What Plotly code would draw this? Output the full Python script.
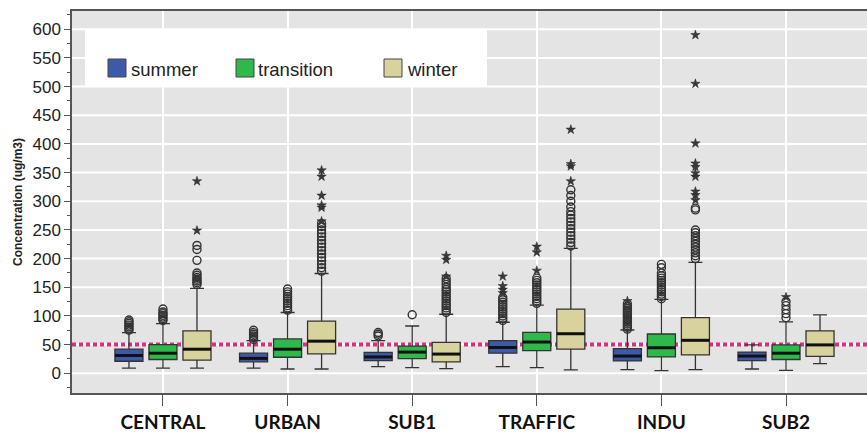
import plotly.graph_objects as go

# Monitoring site groups and seasons
categories = ["CENTRAL", "URBAN", "SUB1", "TRAFFIC", "INDU", "SUB2"]
seasons = ["summer", "transition", "winter"]

# Box statistics per season (one value per site, in category order)
summer_q1 = [21, 20, 22, 35, 21.5, 22]
summer_median = [31, 26, 28.5, 45, 30, 30]
summer_q3 = [42, 35, 36.5, 57, 43, 37]
summer_low = [9, 9, 11.5, 11.5, 6.5, 7.5]
summer_high = [71, 57, 57, 89, 75.5, 49.5]

transition_q1 = [24, 28, 25.5, 39.5, 28.5, 24]
transition_median = [35, 42, 37, 54.5, 44.5, 35]
transition_q3 = [50, 60, 47.5, 71.5, 68.5, 49.5]
transition_low = [9, 7.5, 10, 10, 4.5, 5]
transition_high = [86.5, 106, 82.5, 119, 129, 89.5]

winter_q1 = [23, 34, 20, 42, 32, 29.5]
winter_median = [42, 56, 33.5, 69, 57.5, 49.5]
winter_q3 = [74, 91, 54, 112, 97, 74]
winter_low = [9, 7.5, 8, 6, 6.5, 17]
winter_high = [148, 174, 103, 218, 193.5, 102]

# Outliers (circles) and extreme values (stars), keyed by site
summer_circles = {
    "CENTRAL": [75, 78, 81, 84, 87, 90, 93],
    "URBAN": [59, 62, 65, 68, 71, 75],
    "SUB1": [65, 68, 71],
    "TRAFFIC": [92, 96, 100, 104, 108, 112, 116, 120, 124, 128, 132],
    "INDU": [77, 80, 83, 86, 89, 92, 95, 98, 101, 104, 107, 110, 113, 117, 121],
}
summer_stars = {
    "TRAFFIC": [140, 146, 152, 169],
    "INDU": [126],
}
transition_circles = {
    "CENTRAL": [92, 95, 98, 101, 104, 107, 112],
    "URBAN": [110, 114, 118, 122, 126, 130, 134, 138, 142, 147],
    "SUB1": [102],
    "TRAFFIC": [122, 126, 130, 134, 138, 142, 146, 150, 154, 158, 162, 166],
    "INDU": [130, 134, 138, 142, 146, 150, 154, 158, 162, 166, 170, 175, 184, 190],
    "SUB2": [97, 104, 111, 118, 125],
}
transition_stars = {
    "TRAFFIC": [179, 211, 221],
    "SUB2": [133],
}
winter_circles = {
    "CENTRAL": [155, 158, 161, 164, 167, 171, 175, 197, 216, 223],
    "URBAN": [178, 184, 190, 196, 202, 208, 214, 220, 226, 232, 238, 244, 250, 256, 261],
    "SUB1": [106, 110, 114, 118, 122, 126, 130, 134, 138, 142, 146, 150, 155, 160, 165],
    "TRAFFIC": [222, 228, 234, 240, 246, 252, 258, 264, 270, 276, 282, 290, 300, 310, 320],
    "INDU": [200, 205, 210, 215, 220, 225, 230, 235, 240, 245, 250, 285, 288],
}
winter_stars = {
    "CENTRAL": [249, 335],
    "URBAN": [265, 289, 293, 310, 343, 354],
    "SUB1": [169, 198, 205],
    "TRAFFIC": [335, 361, 365, 425],
    "INDU": [302, 311, 317, 343, 349, 360, 366, 401, 505, 590],
}

limit_value = 50
y_ticks = list(range(0, 601, 50))
y_title = "Concentration (ug/m3)"

colors = {"summer": "#3d5aa9", "transition": "#2fb84c", "winter": "#d8d39d"}
offsets = {"summer": -0.273, "transition": 0.0, "winter": 0.273}
box_w = 0.225

stats = {
    "summer": (summer_q1, summer_median, summer_q3, summer_low, summer_high,
               summer_circles, summer_stars),
    "transition": (transition_q1, transition_median, transition_q3, transition_low,
                   transition_high, transition_circles, transition_stars),
    "winter": (winter_q1, winter_median, winter_q3, winter_low, winter_high,
               winter_circles, winter_stars),
}

fig = go.Figure()

for s in seasons:
    q1, med, q3, lo, hi, circ, stars = stats[s]
    pos = [i + offsets[s] for i in range(len(categories))]
    fig.add_trace(go.Box(
        x=pos, q1=q1, median=med, q3=q3, lowerfence=lo, upperfence=hi,
        width=box_w, whiskerwidth=0.5, fillcolor=colors[s],
        line=dict(color="#333333", width=1.3), boxpoints=False,
        showlegend=False, name=s, hoverinfo="skip",
    ))
    # heavier median bar
    mx, my = [], []
    for p, m in zip(pos, med):
        mx += [p - box_w / 2, p + box_w / 2, None]
        my += [m, m, None]
    fig.add_trace(go.Scatter(x=mx, y=my, mode="lines",
                             line=dict(color="#111111", width=3),
                             showlegend=False, hoverinfo="skip"))
    # outliers
    cx, cy = [], []
    for c, vals in circ.items():
        p = categories.index(c) + offsets[s]
        cx += [p] * len(vals)
        cy += vals
    fig.add_trace(go.Scatter(x=cx, y=cy, mode="markers",
                             marker=dict(symbol="circle-open", size=8,
                                         color="#333333", line=dict(width=1.4)),
                             showlegend=False, hoverinfo="skip"))
    sx, sy = [], []
    for c, vals in stars.items():
        p = categories.index(c) + offsets[s]
        sx += [p] * len(vals)
        sy += vals
    fig.add_trace(go.Scatter(x=sx, y=sy, mode="markers",
                             marker=dict(symbol="star", size=7, color="#3a3a3a",
                                         line=dict(width=0.5, color="#222222")),
                             showlegend=False, hoverinfo="skip"))

# horizontal grid drawn as shapes so the guideline can sit above it
for v in y_ticks:
    fig.add_shape(type="line", xref="paper", x0=0, x1=1, yref="y", y0=v, y1=v,
                  layer="below", line=dict(color="white", width=2))

# guideline value, under the boxes
fig.add_shape(type="line", xref="paper", x0=0, x1=1, yref="y",
              y0=limit_value, y1=limit_value, layer="below",
              line=dict(color="#d6307f", width=4, dash="4px,3px"))

# legend panel
W, H, L, T = 867, 433, 72, 11
PW, PH = W - L, 393 - T


def px_x(x):
    return (x - L) / PW


def px_y(y):
    return (393 - y) / PH


fig.add_shape(type="rect", xref="paper", yref="paper",
              x0=px_x(85), x1=px_x(487), y0=px_y(86), y1=px_y(30),
              fillcolor="white", line=dict(width=0), layer="above")
for s, x0, tx in [("summer", 108, 129), ("transition", 236, 256), ("winter", 384, 405)]:
    fig.add_shape(type="rect", xref="paper", yref="paper",
                  x0=px_x(x0), x1=px_x(x0 + 18), y0=px_y(77), y1=px_y(59),
                  fillcolor=colors[s], line=dict(color="#444444", width=1),
                  layer="above")
    fig.add_annotation(xref="paper", yref="paper", x=px_x(tx), y=px_y(69),
                       text=s, showarrow=False, xanchor="left", yanchor="middle",
                       font=dict(family="Liberation Sans, Arial", size=18.5,
                                 color="#222222"))

fig.add_annotation(xref="paper", yref="paper", x=px_x(18), y=0.5,
                   text="<b>" + y_title + "</b>", textangle=-90, showarrow=False,
                   xanchor="center", yanchor="middle",
                   font=dict(family="Liberation Sans, Arial", size=12,
                             color="#222222"))

fig.update_layout(
    width=W, height=H,
    margin=dict(l=L, r=0, t=T, b=H - 393),
    paper_bgcolor="white", plot_bgcolor="#e4e4e4",
    boxmode="overlay",
    showlegend=False,
    xaxis=dict(
        range=[-0.730, 5.650], tickvals=list(range(len(categories))),
        ticktext=categories, showgrid=True, gridcolor="white", gridwidth=2,
        zeroline=False, showline=True, linecolor="#555555", linewidth=1.5,
        mirror=True, ticks="outside", ticklen=11, tickcolor="#555555",
        tickfont=dict(family="Lato, Open Sans", size=19, color="#111111",
                      weight="bold"),
    ),
    yaxis=dict(
        range=[-34.4, 631.9], tickvals=y_ticks, showgrid=False,
        zeroline=False, showline=True,
        linecolor="#555555", linewidth=1.5, ticks="outside", ticklen=6,
        tickcolor="#555555",
        tickfont=dict(family="Liberation Sans, Arial", size=17, color="#222222"),
        minor=dict(dtick=25, tick0=0, ticks="outside", ticklen=3,
                   tickcolor="#555555", showgrid=False),
    ),
)

fig.write_html("out.html")
